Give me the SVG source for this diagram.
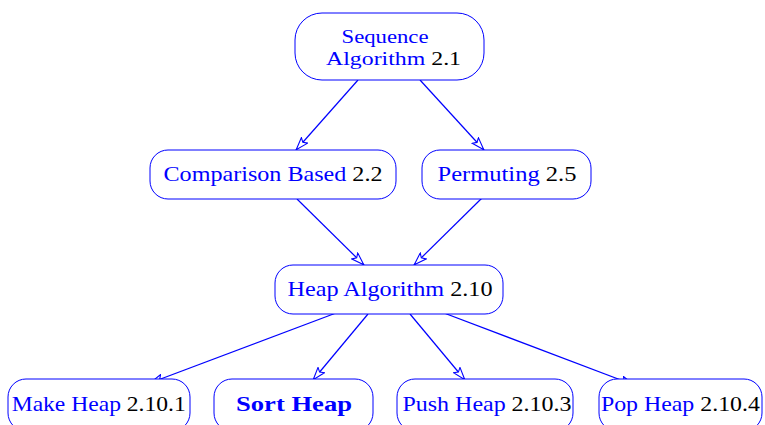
<svg xmlns="http://www.w3.org/2000/svg" width="765" height="425" viewBox="0 0 765 425">
  <defs>
    <marker id="tri" viewBox="0 0 14 10" refX="13.5" refY="5" markerWidth="14" markerHeight="10" markerUnits="userSpaceOnUse" orient="auto">
      <path d="M0.6,0.8 L13.2,5 L0.6,9.2 L3.2,5 Z" fill="#fff" stroke="#0000ff" stroke-width="1.1"/>
    </marker>
  </defs>
  <style>
    .box { fill: #fff; stroke: #0000ff; stroke-width: 1; }
    .lbl { font-family: "Liberation Serif", "DejaVu Serif", serif; font-size: 21px; fill: #0000ff; text-anchor: middle; }
    .two { font-size: 19px; }
    .num { fill: #000; }
    .bold { font-weight: bold; }
    .edge { stroke: #0000ff; stroke-width: 1.2; fill: none; marker-end: url(#tri); }
  </style>
  <rect width="765" height="425" fill="#fff"/>
  <g id="connectors">
    <line class="edge" x1="358" y1="80" x2="296" y2="150"/>
    <line class="edge" x1="420" y1="80" x2="484" y2="150"/>
    <line class="edge" x1="297" y1="199" x2="364" y2="265"/>
    <line class="edge" x1="482" y1="198" x2="414" y2="265"/>
    <line class="edge" x1="336" y1="313" x2="150" y2="383"/>
    <line class="edge" x1="368" y1="314" x2="313" y2="380"/>
    <line class="edge" x1="410" y1="314" x2="465" y2="380"/>
    <line class="edge" x1="444" y1="313" x2="634" y2="385"/>
  </g>
  <g id="sequence">
    <rect class="box" x="295" y="13" width="189" height="67" rx="27"/>
    <text class="lbl two" x="385" y="43" textLength="87" lengthAdjust="spacingAndGlyphs">Sequence</text>
    <text class="lbl two" x="393.5" y="64.5" textLength="135" lengthAdjust="spacingAndGlyphs">Algorithm <tspan class="num">2.1</tspan></text>
  </g>
  <g id="comparison">
    <rect class="box" x="150" y="150" width="246" height="49" rx="18"/>
    <text class="lbl" x="273" y="181" textLength="219" lengthAdjust="spacingAndGlyphs">Comparison Based <tspan class="num">2.2</tspan></text>
  </g>
  <g id="permuting">
    <rect class="box" x="422" y="150" width="169" height="49" rx="18"/>
    <text class="lbl" x="507" y="181" textLength="139" lengthAdjust="spacingAndGlyphs">Permuting <tspan class="num">2.5</tspan></text>
  </g>
  <g id="heap">
    <rect class="box" x="275" y="265" width="228" height="49" rx="18"/>
    <text class="lbl" x="390" y="296" textLength="205" lengthAdjust="spacingAndGlyphs">Heap Algorithm <tspan class="num">2.10</tspan></text>
  </g>
  <g id="make-heap">
    <rect class="box" x="8" y="379" width="182" height="52" rx="18"/>
    <text class="lbl" x="98.7" y="411" textLength="174" lengthAdjust="spacingAndGlyphs">Make Heap <tspan class="num">2.10.1</tspan></text>
  </g>
  <g id="sort-heap">
    <rect class="box" x="214" y="379" width="159" height="52" rx="18"/>
    <text class="lbl bold" x="294" y="411" textLength="116" lengthAdjust="spacingAndGlyphs">Sort Heap</text>
  </g>
  <g id="push-heap">
    <rect class="box" x="397" y="379" width="176" height="52" rx="18"/>
    <text class="lbl" x="487" y="411" textLength="169" lengthAdjust="spacingAndGlyphs">Push Heap <tspan class="num">2.10.3</tspan></text>
  </g>
  <g id="pop-heap">
    <rect class="box" x="599" y="379" width="163" height="52" rx="18"/>
    <text class="lbl" x="680.4" y="411" textLength="159" lengthAdjust="spacingAndGlyphs">Pop Heap <tspan class="num">2.10.4</tspan></text>
  </g>
</svg>
